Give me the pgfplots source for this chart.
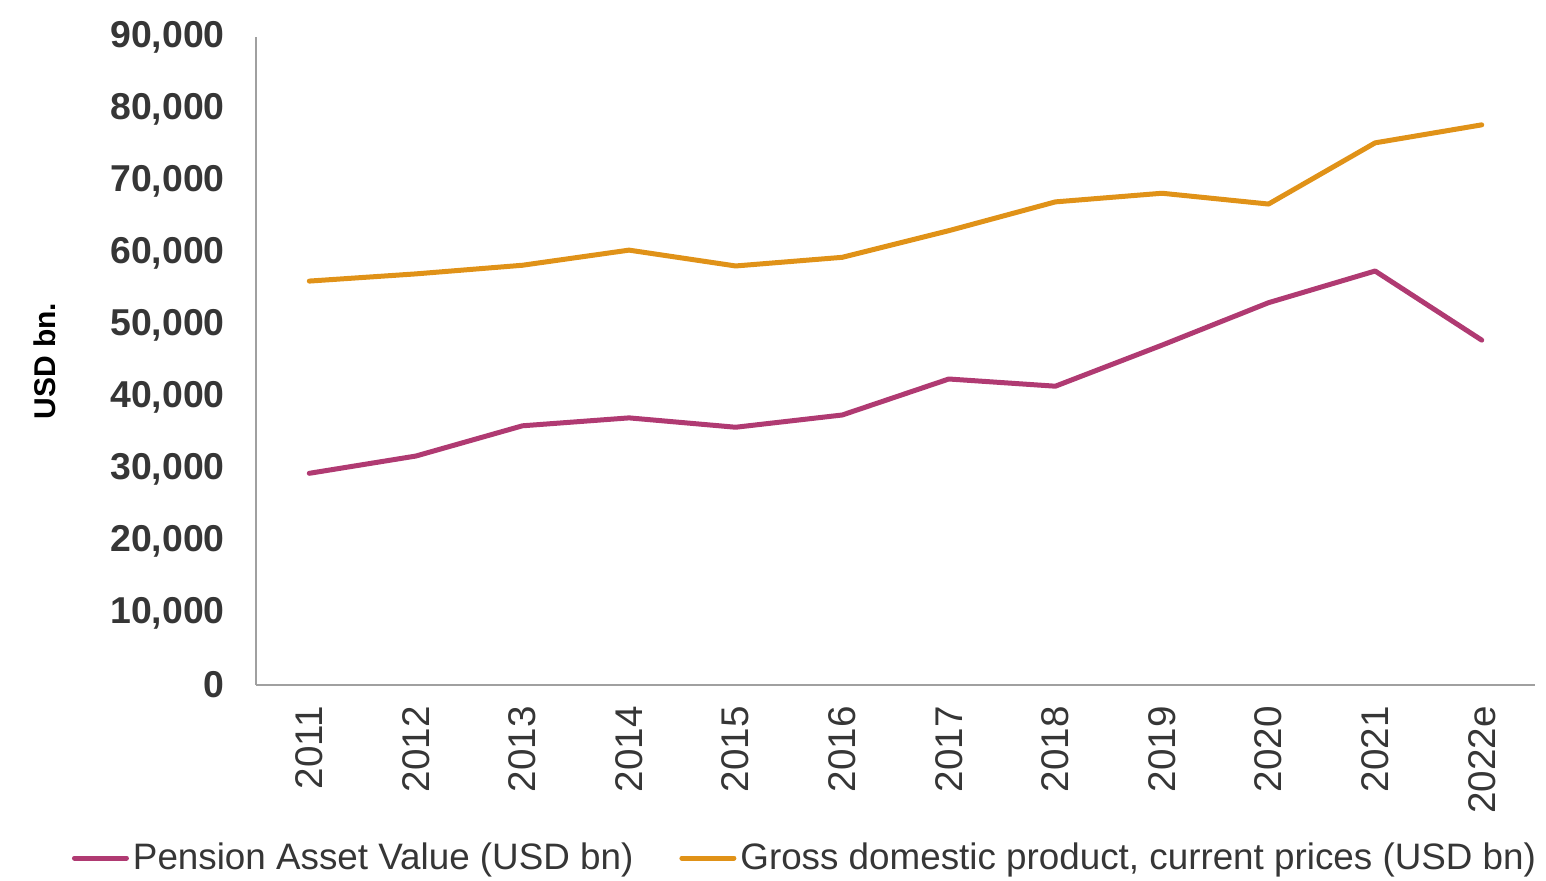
\documentclass[border=0pt]{standalone}
\usepackage{pgfplots}
\pgfplotsset{compat=1.18}
\usepackage{fontspec}
\setmainfont{Liberation Sans}
\definecolor{pens}{HTML}{B03A72}
\definecolor{gdp}{HTML}{E09218}
\definecolor{txt}{HTML}{363636}
\definecolor{axg}{HTML}{A0A0A0}
\begin{document}
\begin{tikzpicture}
\begin{axis}[
  name=ax,
  scale only axis,
  width=639.5pt, height=324pt,
  xmin=-0.5, xmax=11.5,
  ymin=0, ymax=90000,
  axis lines=left,
  axis line style={axg, line width=0.8pt, -},
  xtick={0,...,11},
  xticklabels={2011,2012,2013,2014,2015,2016,2017,2018,2019,2020,2021,2022e},
  xtick style={draw=none},
  ytick={0,10000,...,90000},
  ytick style={draw=none},
  x tick label style={rotate=90, anchor=east, font=\fontsize{19.3}{22}\selectfont, text=txt},
  y tick label style={font=\fontsize{18.7}{22}\selectfont\bfseries, text=txt},
  xticklabel shift=5pt,
  yticklabel shift=10pt,
  /pgf/number format/assume math mode=true,
  scaled y ticks=false,
  yticklabel={\pgfmathprintnumber[fixed,1000 sep={,}]{\tick}},
  ylabel={USD bn.},
  ylabel style={at={(axis description cs:-0.165,0.5)}, anchor=center, rotate=0, font=\fontsize{15}{18}\selectfont\bfseries, text=black},
  legend style={at={(0.43,-0.267)}, anchor=center, draw=none, legend columns=2,
    font=\fontsize{18.4}{22}\selectfont, text=txt, /tikz/every even column/.append style={column sep=21pt},
    /tikz/every odd column/.append style={column sep=0pt}},
  legend image code/.code={\draw[#1, line width=2.5pt, line cap=round] (0pt,0pt) -- (26pt,0pt);},
  clip=false,
]
\addplot[pens, line width=2.5pt, line cap=round, line join=round] coordinates {
(0,29400) (1,31800) (2,36000) (3,37100) (4,35800) (5,37500) (6,42500) (7,41500) (8,47200) (9,53100) (10,57500) (11,47900)};
\addlegendentry{Pension Asset Value (USD bn)}
\addplot[gdp, line width=2.5pt, line cap=round, line join=round] coordinates {
(0,56100) (1,57100) (2,58300) (3,60400) (4,58200) (5,59400) (6,63100) (7,67100) (8,68300) (9,66800) (10,75300) (11,77800)};
\addlegendentry{Gross domestic product, current prices (USD bn)}
\end{axis}
\path (ax.south west) ++(-128pt,342.5pt) coordinate (tl);
\path (ax.south west) ++(645pt,-95.5pt) coordinate (br);
\path (tl) (br);
\end{tikzpicture}
\end{document}
